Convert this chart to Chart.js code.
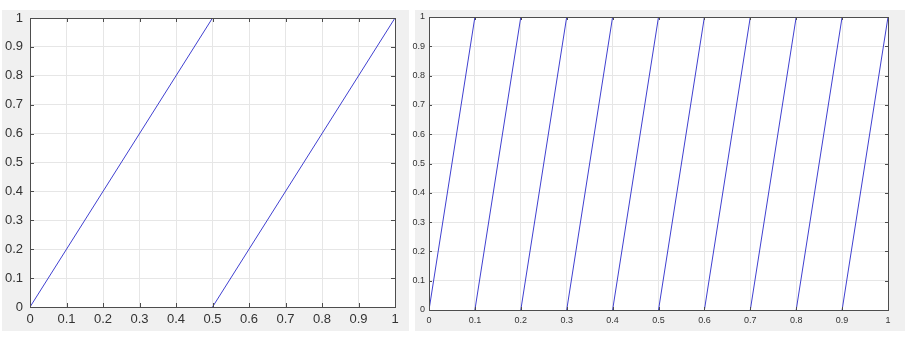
<!DOCTYPE html>
<html>
<head>
<meta charset="utf-8">
<script src="https://cdn.jsdelivr.net/npm/chart.js@4.4.0/dist/chart.umd.min.js"></script>
<style>
  body { margin: 0; background: #fff; width: 910px; height: 338px; position: relative; overflow: hidden; }
  .fig { position: absolute; background: #f0f0f0; }
  canvas { position: absolute; top: 0; }
</style>
</head>
<body>
<div class="fig" style="left:2px;top:10px;width:407px;height:321px"></div>
<div class="fig" style="left:415px;top:10px;width:490px;height:321px"></div>
<canvas id="left" width="408" height="338" style="left:0"></canvas>
<canvas id="right" width="502" height="338" style="left:408px"></canvas>
<script>
// tick values and labels shared by both axes
const tickValues = [0, 0.1, 0.2, 0.3, 0.4, 0.5, 0.6, 0.7, 0.8, 0.9, 1];
const tickLabels = ['0', '0.1', '0.2', '0.3', '0.4', '0.5', '0.6', '0.7', '0.8', '0.9', '1'];

// left plot: sawtooth, period 0.5 (null = break between teeth)
const leftX = [0, 0.5, 0.5, 0.5, 1];
const leftY = [0, 1, null, 0, 1];

// right plot: sawtooth, period 0.1
const rightX = [0, 0.1, 0.1, 0.1, 0.2, 0.2, 0.2, 0.3, 0.3, 0.3, 0.4, 0.4, 0.4, 0.5, 0.5,
  0.5, 0.6, 0.6, 0.6, 0.7, 0.7, 0.7, 0.8, 0.8, 0.8, 0.9, 0.9, 0.9, 1];
const rightY = [0, 1, null, 0, 1, null, 0, 1, null, 0, 1, null, 0, 1, null,
  0, 1, null, 0, 1, null, 0, 1, null, 0, 1, null, 0, 1];

// white axes background, then box with inward ticks on all four sides
const boxPlugin = {
  id: 'box',
  beforeDraw(chart) {
    const { ctx, chartArea: a } = chart;
    ctx.save();
    ctx.fillStyle = '#fff';
    ctx.fillRect(a.left, a.top, a.right - a.left, a.bottom - a.top);
    ctx.restore();
  },
  afterDraw(chart, args, opts) {
    const { ctx, chartArea: a, scales } = chart;
    const len = opts.tickLength;
    ctx.save();
    ctx.strokeStyle = '#4d4d4d';
    ctx.lineWidth = 1;
    ctx.beginPath();
    tickValues.forEach(v => {
      const px = Math.round(scales.x.getPixelForValue(v)) + 0.5;
      const py = Math.round(scales.y.getPixelForValue(v)) + 0.5;
      ctx.moveTo(px, a.bottom); ctx.lineTo(px, a.bottom - len);
      ctx.moveTo(px, a.top); ctx.lineTo(px, a.top + len);
      ctx.moveTo(a.left, py); ctx.lineTo(a.left + len, py);
      ctx.moveTo(a.right, py); ctx.lineTo(a.right - len, py);
    });
    ctx.stroke();
    ctx.strokeRect(Math.round(a.left) + 0.5, Math.round(a.top) + 0.5,
      Math.round(a.right - a.left), Math.round(a.bottom - a.top));
    ctx.restore();
  }
};

function makeChart(id, xs, ys, cfg) {
  const points = xs.map((x, i) => ({ x: x, y: ys[i] }));
  const axis = (fit, pad) => ({
    type: 'linear',
    min: 0,
    max: 1,
    afterBuildTicks: s => { s.ticks = tickValues.map(v => ({ value: v })); },
    afterFit: fit,
    grid: { color: '#e6e6e6', drawTicks: false },
    border: { display: false },
    ticks: {
      padding: pad,
      color: '#333',
      font: { family: 'Liberation Sans, Arial, sans-serif', size: cfg.fontSize },
      callback: (v, i) => tickLabels[i]
    }
  });
  return new Chart(document.getElementById(id), {
    type: 'line',
    data: {
      datasets: [{
        data: points,
        borderColor: '#4040d0',
        borderWidth: 1,
        pointRadius: 0,
        tension: 0,
        spanGaps: false
      }]
    },
    options: {
      responsive: false,
      animation: false,
      devicePixelRatio: 1,
      layout: { padding: cfg.padding },
      plugins: {
        legend: { display: false },
        tooltip: { enabled: false },
        box: { tickLength: cfg.tickLength }
      },
      scales: {
        x: axis(s => { s.height = cfg.xHeight; }, cfg.xPad),
        y: axis(s => { s.width = cfg.yWidth; }, cfg.yPad)
      }
    },
    plugins: [boxPlugin]
  });
}

makeChart('left', leftX, leftY, {
  fontSize: 13, tickLength: 4,
  padding: { left: 0, top: 18, right: 13, bottom: 0 },
  yWidth: 30, xHeight: 31, xPad: 5, yPad: 7
});

makeChart('right', rightX, rightY, {
  fontSize: 9, tickLength: 3,
  padding: { left: 0, top: 17, right: 22, bottom: 0 },
  yWidth: 21, xHeight: 28, xPad: 5, yPad: 4
});
</script>
</body>
</html>
